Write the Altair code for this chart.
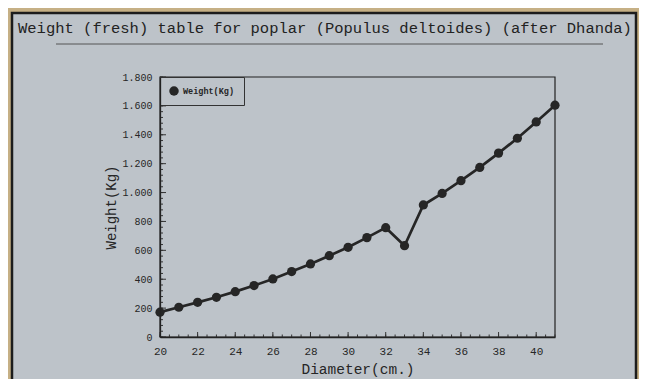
import altair as alt
import pandas as pd

# ---- data ----
diameter = list(range(20, 42))
weight = [172, 206, 240, 275, 314, 356, 402, 453, 506, 563, 621, 688, 757,
          632, 914, 994, 1082, 1174, 1273, 1376, 1489, 1605]
series_name = "Weight(Kg)"
x_label_values = [20, 22, 24, 26, 28, 30, 32, 34, 36, 38, 40]
y_label_values = [0, 200, 400, 600, 800, 1000, 1200, 1400, 1600, 1800]
x_minor_ticks = [20 + 0.5 * i for i in range(43)]
x_major_ticks = x_label_values
y_minor_ticks = list(range(0, 1801, 40))
y_major_ticks = y_label_values
chart_title = "Weight (fresh) table for poplar (Populus deltoides) (after Dhanda)"

# ---- styling ----
TAN = "#c6b085"
PANEL = "#bdc3c9"
INK = "#262626"
MONO = "Liberation Mono"
W, H = 395, 260

source = pd.DataFrame({
    "Diameter": diameter,
    "Weight": weight,
    "Series": [series_name] * len(diameter),
})

x_scale = alt.Scale(domain=[20, 41], nice=False, zero=False)
y_scale = alt.Scale(domain=[0, 1800], nice=False)

x_axis = alt.Axis(
    values=x_label_values, format="d", ticks=False, grid=False, zindex=2,
    labelFlush=False, labelOverlap=False,
    labelFont=MONO, labelFontSize=11, labelPadding=8, labelColor=INK,
    domainColor="#222222", domainWidth=1.3,
    title="Diameter(cm.)", titleFont=MONO, titleFontSize=14.5,
    titleFontWeight="normal", titleColor=INK,
    titleX=W / 2, titleY=32, titleAlign="center", titleBaseline="middle",
)
y_axis = alt.Axis(
    values=y_label_values, ticks=False, grid=False, zindex=2,
    labelFlush=False, labelOverlap=False,
    labelExpr="replace(format(datum.value, ','), ',', '.')",
    labelFont=MONO, labelFontSize=10, labelPadding=8, labelColor=INK,
    domainColor="#222222", domainWidth=1.3,
    title="Weight(Kg)", titleFont=MONO, titleFontSize=14,
    titleFontWeight="normal", titleColor=INK,
    titleX=-49, titleY=H / 2, titleAngle=270,
    titleAlign="center", titleBaseline="middle",
)

one = pd.DataFrame({"t": [chart_title]})

panel = alt.Chart(one).mark_rect(fill=PANEL, stroke="#1c1c1c", strokeWidth=2.5).encode(
    x=alt.value(-148), x2=alt.value(476), y=alt.value(-64), y2=alt.value(340)
)

frame = alt.Chart(one).mark_rect(filled=False, stroke="#222222", strokeWidth=1.2).encode(
    x=alt.value(0), x2=alt.value(W), y=alt.value(0), y2=alt.value(H)
)

title_text = alt.Chart(one).mark_text(
    font=MONO, fontSize=15.5, align="left", baseline="middle", color="#222222"
).encode(text="t:N", x=alt.value(-142), y=alt.value(-49))

underline = alt.Chart(one).mark_rule(color="#555555", strokeWidth=1).encode(
    x=alt.value(-104), x2=alt.value(443), y=alt.value(-33)
)

xminor = alt.Chart(pd.DataFrame({"Diameter": x_minor_ticks})).mark_rule(color="#333333", strokeWidth=1).encode(
    x=alt.X("Diameter:Q", scale=x_scale, axis=x_axis), y=alt.value(H), y2=alt.value(H - 2.5)
)
xmajor = alt.Chart(pd.DataFrame({"Diameter": x_major_ticks})).mark_rule(color="#333333", strokeWidth=1).encode(
    x=alt.X("Diameter:Q", scale=x_scale, axis=x_axis), y=alt.value(H), y2=alt.value(H - 5)
)
yminor = alt.Chart(pd.DataFrame({"Weight": y_minor_ticks})).mark_rule(color="#333333", strokeWidth=1).encode(
    y=alt.Y("Weight:Q", scale=y_scale, axis=y_axis), x=alt.value(0), x2=alt.value(3)
)
ymajor = alt.Chart(pd.DataFrame({"Weight": y_major_ticks})).mark_rule(color="#333333", strokeWidth=1).encode(
    y=alt.Y("Weight:Q", scale=y_scale, axis=y_axis), x=alt.value(0), x2=alt.value(6)
)

base = alt.Chart(source).encode(
    x=alt.X("Diameter:Q", scale=x_scale, axis=x_axis),
    y=alt.Y("Weight:Q", scale=y_scale, axis=y_axis),
    color=alt.Color(
        "Series:N",
        scale=alt.Scale(domain=[series_name], range=[INK]),
        legend=alt.Legend(
            title=None, orient="none", legendX=0, legendY=0,
            symbolType="circle", symbolSize=90, symbolStrokeWidth=0,
            labelFont=MONO, labelFontSize=8.5, labelFontWeight="bold",
            labelColor=INK, padding=9, strokeColor="#333333", fillColor=PANEL,
        ),
    ),
)

line = base.mark_line(strokeWidth=2.7)
points = base.mark_point(filled=True, size=85, opacity=1, shape="circle")

chart = alt.layer(
    panel, frame, underline, title_text, xminor, xmajor, yminor, ymajor, line, points
).properties(
    width=W, height=H,
    autosize=alt.AutoSizeParams(type="none"),
    padding={"left": 152, "top": 69, "right": 84, "bottom": 42},
    background=TAN,
).configure_view(stroke=None)

chart.save("out.html", embed_options={"renderer": "svg", "actions": False})
